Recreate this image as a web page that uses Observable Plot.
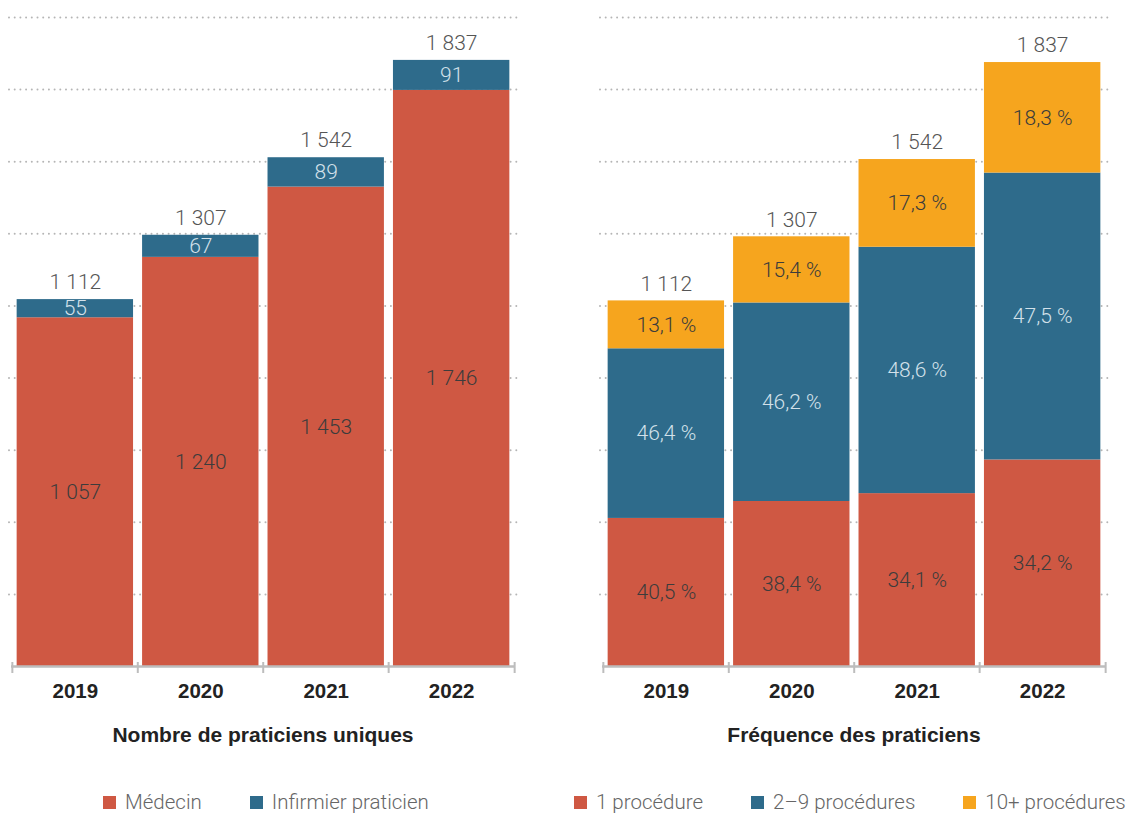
<!DOCTYPE html>
<html><head><meta charset="utf-8">
<script src="https://cdn.jsdelivr.net/npm/d3@7"></script>
<script src="https://cdn.jsdelivr.net/npm/@observablehq/plot@0.6"></script>
<style>
body{margin:0;background:#fff;}
#wrap{position:relative;width:1136px;height:814px;overflow:hidden;}
.panel{position:absolute;top:0;}
.title{position:absolute;top:723px;width:504px;font-family:"Liberation Sans",Arial,sans-serif;font-weight:bold;font-size:21px;line-height:24px;color:#222;text-align:center;}
.legend{position:absolute;top:792px;display:flex;gap:48px;font-family:Roboto,"Liberation Sans",sans-serif;font-weight:300;font-size:20.5px;color:#666;line-height:21px;}
.item{display:flex;align-items:center;white-space:nowrap;}
.sw{display:inline-block;width:13px;height:13px;margin-right:9px;}
</style></head>
<body>
<div id="wrap">
  <div id="left" class="panel" style="left:0px"></div>
  <div id="right" class="panel" style="left:591px"></div>
  <div class="title" style="left:11px">Nombre de praticiens uniques</div>
  <div class="title" style="left:602px">Fréquence des praticiens</div>
  <div id="legL" class="legend" style="left:103px"></div>
  <div id="legR" class="legend" style="left:574px"></div>
</div>
<script>
const years = ["2019","2020","2021","2022"];
const medecin = [1057,1240,1453,1746];
const infirmier = [55,67,89,91];
const totals = [1112,1307,1542,1837];
const pctOne = [40.5,38.4,34.1,34.2];
const pctMid = [46.4,46.2,48.6,47.5];
const pctTen = [13.1,15.4,17.3,18.3];
const seriesLeft = ["Médecin","Infirmier praticien"];
const seriesRight = ["1 procédure","2–9 procédures","10+ procédures"];

const RED="#CF5843", BLUE="#2E6B8B", ORANGE="#F6A51E";
const DARK="#3c3c3c", LIGHT="#d3e1ea";

const locale = d3.formatLocale({decimal:",", thousands:"\u00a0", grouping:[3], currency:["","€"]});
const fmtInt = locale.format(",d");
const fmt1 = locale.format(".1f");
const fmtPct = v => fmt1(v) + "\u00a0%";

const leftRows = [];
years.forEach((y,i)=>{
  leftRows.push({year:y, series:seriesLeft[0], value:medecin[i], fill:RED, tc:DARK, label:fmtInt(medecin[i])});
  leftRows.push({year:y, series:seriesLeft[1], value:infirmier[i], fill:BLUE, tc:LIGHT, label:fmtInt(infirmier[i])});
});
const rightRows = [];
years.forEach((y,i)=>{
  rightRows.push({year:y, series:seriesRight[0], value:pctOne[i]*totals[i]/100, fill:RED, tc:DARK, label:fmtPct(pctOne[i])});
  rightRows.push({year:y, series:seriesRight[1], value:pctMid[i]*totals[i]/100, fill:BLUE, tc:LIGHT, label:fmtPct(pctMid[i])});
  rightRows.push({year:y, series:seriesRight[2], value:pctTen[i]*totals[i]/100, fill:ORANGE, tc:DARK, label:fmtPct(pctTen[i])});
});
const totalRows = years.map((y,i)=>({year:y, total:totals[i], label:fmtInt(totals[i])}));

function panel(rows, yMax) {
  const gridTicks = d3.range(1,10).map(k=>k*yMax/9);
  const axisStroke = "#bdbdbd";
  return Plot.plot({
    width: 520, height: 720,
    marginLeft: 11, marginRight: 5, marginTop: 17, marginBottom: 54,
    x: {domain: years, paddingInner: 0.072, paddingOuter: 0.045, round: false},
    y: {domain: [0, yMax], axis: null},
    color: {type: "identity"},
    style: {fontFamily: "Roboto, 'Liberation Sans', sans-serif", fontWeight: 300, background: "transparent", overflow: "visible"},
    marks: [
      Plot.ruleY(gridTicks, {stroke:"#b5b5b5", strokeWidth:2, strokeDasharray:"0,5.7", strokeLinecap:"round", insetLeft:-2, insetRight:-3}),
      Plot.barY(rows, {x:"year", y:"value", fill:"fill", z:"series"}),
      Plot.text(rows, Plot.stackY({x:"year", y:"value", z:"series", text:"label", fill:"tc", fontSize:21})),
      Plot.text(totalRows, {x:"year", y:"total", text:"label", dy:-17, fill:"#555", fontSize:21}),
      Plot.ruleY([0], {stroke:axisStroke, strokeWidth:2.5}),
      Plot.ruleX(years, {x:d=>d, y1:0, y2:0, insetTop:-4, insetBottom:-7, dx:-63, stroke:axisStroke, strokeWidth:2}),
      Plot.ruleX([years[years.length-1]], {x:d=>d, y1:0, y2:0, insetTop:-4, insetBottom:-7, dx:63, stroke:axisStroke, strokeWidth:2}),
      Plot.axisX({tickSize:0, tickPadding:17, fontSize:20.5, fontWeight:"bold", fontFamily:"'Liberation Sans', Arial, sans-serif", fill:"#222", label:null})
    ]
  });
}

document.getElementById("left").append(panel(leftRows, 1967));
document.getElementById("right").append(panel(rightRows, 1974));

function legend(el, names, colors) {
  names.forEach((n,i)=>{
    const it = document.createElement("div"); it.className="item";
    const sw = document.createElement("span"); sw.className="sw"; sw.style.background = colors[i];
    it.append(sw, document.createTextNode(n));
    el.append(it);
  });
}
legend(document.getElementById("legL"), seriesLeft, [RED, BLUE]);
legend(document.getElementById("legR"), seriesRight, [RED, BLUE, ORANGE]);
</script>
</body></html>
